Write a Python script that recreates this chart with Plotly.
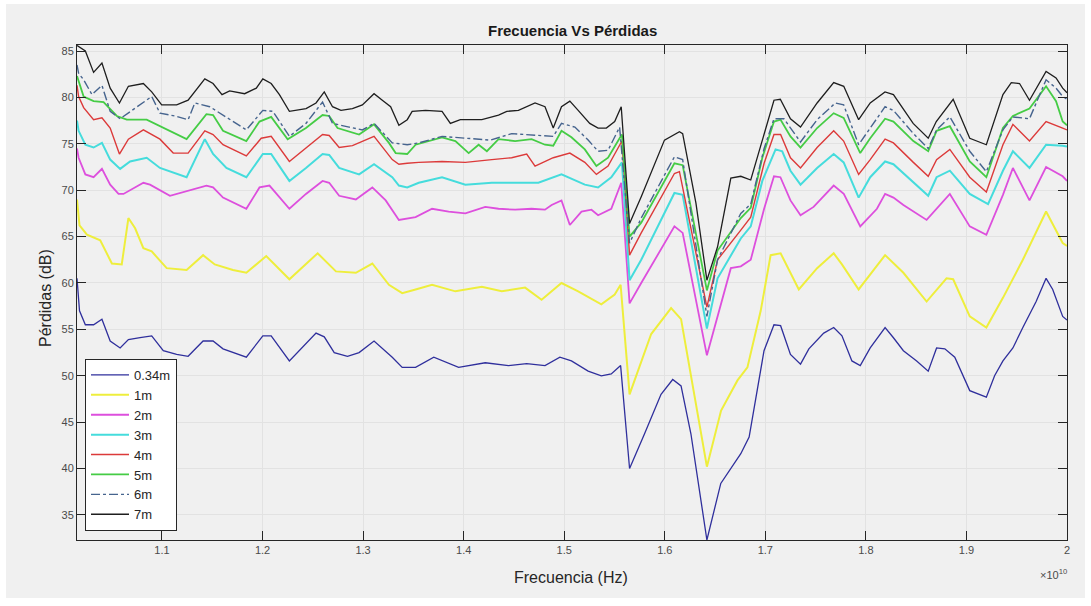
import plotly.graph_objects as go

# Frequency in units of 1e10 Hz, losses in dB: (frequency, loss) vertices
S_034M = [(1.0155, 60.5), (1.018, 57.0), (1.0238, 55.5), (1.032, 55.5), (1.0403, 56.1), (1.0485, 53.75),
          (1.0584, 53.0), (1.0666, 53.9), (1.0782, 54.1), (1.0898, 54.3), (1.1013, 52.7), (1.1146, 52.3),
          (1.126, 52.1), (1.1409, 53.75), (1.1508, 53.75), (1.1607, 52.9), (1.1839, 52.0), (1.2003, 54.3),
          (1.2086, 54.3), (1.2267, 51.6), (1.2532, 54.6), (1.2614, 54.2), (1.2713, 52.5), (1.2845, 52.1),
          (1.296, 52.5), (1.3109, 53.75), (1.329, 52.0), (1.3389, 50.9), (1.3522, 50.9), (1.3703, 52.0),
          (1.395, 50.9), (1.4215, 51.4), (1.4446, 51.1), (1.4627, 51.3), (1.4809, 51.1), (1.4957, 52.0),
          (1.5072, 51.6), (1.5238, 50.5), (1.5369, 50.0), (1.5468, 50.2), (1.5561, 51.1), (1.565, 40.0),
          (1.5799, 43.75), (1.5963, 48.0), (1.6079, 49.6), (1.6162, 48.9), (1.626, 43.75), (1.6419, 32.3),
          (1.6557, 38.4), (1.6657, 40.0), (1.6756, 41.6), (1.6839, 43.4), (1.6987, 52.7), (1.7086, 55.5),
          (1.7152, 55.4), (1.725, 52.3), (1.735, 51.25), (1.7433, 52.9), (1.7581, 54.6), (1.768, 55.2),
          (1.7762, 54.3), (1.7861, 51.6), (1.7944, 51.1), (1.8043, 53.0), (1.8191, 55.2), (1.8274, 54.1),
          (1.8373, 52.7), (1.8505, 51.6), (1.862, 50.5), (1.8703, 53.0), (1.8785, 52.9), (1.8884, 52.0),
          (1.9033, 48.4), (1.9198, 47.7), (1.928, 50.0), (1.9363, 51.6), (1.9462, 53.0), (1.9561, 55.2),
          (1.9693, 58.0), (1.9792, 60.5), (1.9858, 59.3), (1.9957, 56.4), (2.0, 56.0)]

S_1M = [(1.0155, 69.0), (1.018, 66.2), (1.0254, 65.2), (1.0386, 64.6), (1.0502, 62.1), (1.06, 62.0),
        (1.0666, 67.0), (1.0733, 65.9), (1.0815, 63.75), (1.0898, 63.4), (1.1047, 61.6), (1.1245, 61.4),
        (1.1409, 63.0), (1.1525, 62.0), (1.1706, 61.4), (1.1839, 61.1), (1.2037, 62.9), (1.2267, 60.4),
        (1.2548, 63.2), (1.273, 61.25), (1.2928, 61.1), (1.3092, 62.1), (1.3257, 59.8), (1.3389, 58.9),
        (1.3522, 59.3), (1.3686, 59.8), (1.3918, 59.1), (1.4181, 59.6), (1.4379, 59.1), (1.4611, 59.5),
        (1.4775, 58.2), (1.4973, 60.0), (1.5139, 59.1), (1.5369, 57.7), (1.5502, 58.75), (1.5561, 59.8),
        (1.565, 48.0), (1.5865, 54.5), (1.6063, 57.3), (1.6162, 56.1), (1.6419, 40.2), (1.656, 46.25),
        (1.6723, 49.5), (1.6822, 50.9), (1.6954, 57.0), (1.7053, 63.0), (1.7152, 63.2), (1.7333, 59.3),
        (1.7515, 61.6), (1.768, 63.2), (1.7762, 62.0), (1.7928, 59.3), (1.8191, 63.0), (1.8373, 61.1),
        (1.8604, 58.0), (1.8802, 60.5), (1.8868, 60.4), (1.9033, 56.4), (1.9198, 55.2), (1.9363, 58.4),
        (1.9561, 62.5), (1.9792, 67.7), (1.9957, 64.3), (2.0, 64.0)]

S_2M = [(1.0155, 74.5), (1.0171, 73.5), (1.0238, 71.7), (1.032, 71.4), (1.0403, 72.3), (1.0485, 70.6),
        (1.0568, 69.6), (1.0617, 69.6), (1.0815, 70.8), (1.0881, 70.6), (1.1079, 69.4), (1.1442, 70.5),
        (1.1508, 70.3), (1.1607, 69.2), (1.1839, 68.0), (1.197, 70.3), (1.2069, 70.5), (1.2267, 68.0),
        (1.2432, 69.6), (1.2597, 71.0), (1.2663, 70.8), (1.2762, 69.4), (1.2928, 69.0), (1.3092, 70.3),
        (1.3225, 68.9), (1.3356, 66.8), (1.3522, 67.1), (1.3686, 68.0), (1.3851, 67.7), (1.4017, 67.5),
        (1.4215, 68.2), (1.4347, 68.0), (1.4512, 67.9), (1.4676, 68.0), (1.4809, 67.9), (1.4875, 68.4),
        (1.4973, 68.9), (1.5056, 66.25), (1.5172, 67.7), (1.5271, 67.9), (1.5337, 67.3), (1.5468, 68.0),
        (1.5567, 70.8), (1.565, 57.8), (1.5766, 60.0), (1.6096, 66.1), (1.6178, 65.4), (1.6419, 52.2),
        (1.6657, 61.6), (1.6756, 61.8), (1.6855, 62.5), (1.6988, 68.0), (1.7086, 71.5), (1.715, 71.4),
        (1.725, 68.9), (1.735, 67.3), (1.748, 68.2), (1.768, 70.5), (1.778, 69.6), (1.7944, 66.1),
        (1.811, 68.0), (1.8191, 69.6), (1.8274, 69.2), (1.8373, 68.4), (1.8604, 66.8), (1.8736, 68.4),
        (1.8835, 69.6), (1.9033, 66.1), (1.9198, 65.2), (1.9363, 69.5), (1.9462, 72.4), (1.9627, 68.9),
        (1.9792, 72.5), (1.9957, 71.5), (2.0, 71.0)]

S_3M = [(1.0155, 77.5), (1.0171, 76.4), (1.0238, 74.9), (1.032, 74.6), (1.0403, 75.1), (1.0485, 73.3),
        (1.0584, 72.3), (1.0683, 73.1), (1.0848, 73.5), (1.098, 72.4), (1.1245, 71.4), (1.1426, 75.5),
        (1.1508, 73.9), (1.1641, 72.4), (1.1839, 71.4), (1.2003, 73.9), (1.2086, 73.9), (1.2267, 71.0),
        (1.2432, 72.4), (1.2597, 73.9), (1.2663, 73.8), (1.2762, 72.4), (1.296, 71.7), (1.3109, 72.8),
        (1.329, 71.4), (1.3356, 70.5), (1.3439, 70.3), (1.3554, 70.8), (1.3785, 71.4), (1.4017, 70.6),
        (1.428, 70.8), (1.4478, 70.8), (1.4743, 70.8), (1.4973, 71.7), (1.5205, 70.6), (1.5337, 70.3),
        (1.5468, 71.4), (1.5574, 73.0), (1.565, 60.3), (1.5766, 62.5), (1.6096, 69.7), (1.6178, 69.5),
        (1.6419, 55.1), (1.6525, 60.5), (1.6756, 64.8), (1.6855, 66.1), (1.697, 71.0), (1.7102, 74.4),
        (1.7168, 74.2), (1.725, 72.1), (1.735, 70.6), (1.7515, 72.4), (1.768, 73.9), (1.7779, 73.0),
        (1.7928, 69.2), (1.8043, 71.4), (1.8191, 73.1), (1.8274, 72.8), (1.8472, 70.8), (1.862, 69.4),
        (1.8703, 71.4), (1.8835, 72.1), (1.9033, 69.6), (1.9215, 68.5), (1.9363, 72.1), (1.9462, 74.2),
        (1.9627, 72.4), (1.9792, 74.9), (1.9957, 74.8), (2.0, 74.7)]

S_4M = [(1.0155, 81.3), (1.0171, 80.1), (1.0221, 78.9), (1.032, 77.6), (1.0403, 77.8), (1.0485, 76.7),
        (1.0577, 73.9), (1.0666, 75.5), (1.0815, 76.5), (1.098, 75.5), (1.1112, 74.0), (1.126, 74.0),
        (1.1426, 76.4), (1.1508, 76.0), (1.1607, 74.9), (1.1839, 73.7), (1.1987, 75.6), (1.2086, 75.8),
        (1.2267, 73.1), (1.2432, 74.6), (1.2597, 76.0), (1.2663, 75.9), (1.2762, 74.6), (1.2894, 74.8),
        (1.3109, 75.8), (1.329, 73.3), (1.3356, 72.8), (1.3439, 72.9), (1.3554, 73.0), (1.3785, 73.1),
        (1.4017, 73.0), (1.428, 73.3), (1.4478, 73.5), (1.4627, 73.9), (1.471, 72.6), (1.4891, 73.5),
        (1.5056, 74.0), (1.5205, 73.0), (1.532, 71.7), (1.5436, 72.6), (1.5551, 74.9), (1.5574, 75.3),
        (1.565, 63.0), (1.5766, 65.4), (1.6096, 71.8), (1.6146, 72.0), (1.6419, 57.4), (1.6525, 62.5),
        (1.6756, 65.7), (1.6855, 67.1), (1.6988, 72.9), (1.7086, 76.0), (1.7152, 76.0), (1.725, 73.5),
        (1.735, 72.4), (1.7515, 74.6), (1.768, 76.4), (1.7779, 75.3), (1.7928, 71.7), (1.8043, 73.3),
        (1.8191, 75.5), (1.8274, 75.1), (1.8472, 73.0), (1.862, 71.5), (1.8703, 73.3), (1.8835, 74.4),
        (1.9033, 71.4), (1.9198, 69.8), (1.9363, 74.9), (1.9462, 77.1), (1.9627, 75.3), (1.9792, 77.4),
        (1.9957, 76.7), (2.0, 76.5)]

S_5M = [(1.0155, 82.3), (1.0171, 81.7), (1.0221, 80.1), (1.032, 79.6), (1.0419, 79.5), (1.0551, 78.0),
        (1.065, 77.6), (1.0848, 77.6), (1.1245, 75.5), (1.1442, 78.2), (1.1508, 78.1), (1.1607, 76.4),
        (1.1839, 75.3), (1.197, 77.4), (1.2086, 77.9), (1.225, 75.5), (1.2432, 76.7), (1.2597, 78.1),
        (1.2663, 78.0), (1.2746, 76.7), (1.296, 76.0), (1.3109, 77.1), (1.3257, 75.1), (1.3324, 74.0),
        (1.3439, 73.9), (1.3522, 74.9), (1.3785, 75.7), (1.3918, 75.3), (1.405, 74.0), (1.4149, 74.9),
        (1.4231, 74.2), (1.4347, 75.5), (1.4512, 75.3), (1.4676, 75.5), (1.4809, 74.9), (1.4891, 74.8),
        (1.4973, 76.4), (1.5072, 75.7), (1.5205, 74.4), (1.532, 72.6), (1.5436, 73.5), (1.5551, 75.6),
        (1.5574, 76.0), (1.565, 65.0), (1.5766, 66.5), (1.6096, 72.9), (1.6178, 72.7), (1.6419, 59.2),
        (1.6525, 63.5), (1.6756, 67.0), (1.6855, 68.1), (1.697, 73.5), (1.7086, 77.4), (1.7152, 77.6),
        (1.725, 75.8), (1.735, 74.6), (1.7515, 76.7), (1.768, 78.3), (1.7779, 77.8), (1.7944, 74.0),
        (1.8043, 75.6), (1.8191, 77.7), (1.8274, 77.4), (1.8472, 75.3), (1.862, 74.2), (1.8703, 76.4),
        (1.8835, 76.9), (1.9033, 73.1), (1.9198, 71.4), (1.9363, 76.7), (1.9462, 78.0), (1.9627, 78.8),
        (1.9792, 81.2), (1.9891, 79.6), (1.9957, 77.4), (2.0, 77.0)]

S_6M = [(1.0155, 83.5), (1.0171, 82.6), (1.0221, 81.9), (1.0304, 80.3), (1.0403, 81.3), (1.0485, 78.5),
        (1.0584, 77.7), (1.0898, 80.1), (1.098, 78.3), (1.1129, 78.0), (1.126, 77.6), (1.1327, 79.4),
        (1.1475, 79.0), (1.1839, 76.5), (1.2003, 78.6), (1.2102, 78.5), (1.2267, 75.8), (1.2432, 77.2),
        (1.2597, 79.5), (1.2696, 77.2), (1.2861, 76.8), (1.2993, 76.5), (1.3109, 77.2), (1.329, 75.1),
        (1.3439, 74.9), (1.3554, 75.1), (1.3785, 75.8), (1.4017, 75.6), (1.4264, 75.4), (1.4478, 76.1),
        (1.4743, 75.9), (1.4891, 75.8), (1.4973, 77.2), (1.5106, 76.8), (1.5238, 75.4), (1.5337, 74.2),
        (1.5436, 74.3), (1.5551, 76.8), (1.565, 64.3), (1.5766, 67.0), (1.6096, 73.6), (1.6178, 73.3),
        (1.6419, 56.4), (1.6525, 62.5), (1.6756, 67.5), (1.6855, 68.5), (1.6988, 74.5), (1.7086, 77.7),
        (1.7185, 77.7), (1.735, 75.2), (1.7515, 77.6), (1.7696, 79.4), (1.7779, 79.2), (1.7928, 74.9),
        (1.8043, 76.7), (1.8191, 79.0), (1.8274, 78.6), (1.8472, 76.1), (1.862, 74.5), (1.8703, 76.5),
        (1.8835, 77.9), (1.9033, 74.2), (1.9198, 72.0), (1.9363, 76.5), (1.9462, 77.9), (1.9627, 77.7),
        (1.9792, 81.9), (1.9891, 81.0), (1.9957, 80.1), (2.0, 79.8)]

S_7M = [(1.0155, 85.6), (1.0238, 85.0), (1.032, 82.7), (1.0403, 83.7), (1.0485, 81.0), (1.0577, 79.4),
        (1.0666, 81.2), (1.0815, 81.5), (1.0898, 80.6), (1.0997, 79.2), (1.1146, 79.2), (1.126, 79.7),
        (1.1426, 82.0), (1.1508, 81.5), (1.1597, 80.3), (1.1673, 80.7), (1.1822, 80.4), (1.1938, 81.0),
        (1.2003, 82.0), (1.2086, 81.5), (1.2168, 80.3), (1.2267, 78.5), (1.2433, 78.8), (1.2532, 79.4),
        (1.2614, 80.6), (1.2696, 79.0), (1.278, 78.6), (1.2894, 78.8), (1.2993, 79.2), (1.3109, 80.4),
        (1.3191, 79.7), (1.3274, 79.0), (1.3356, 77.0), (1.3439, 77.6), (1.3488, 78.5), (1.3621, 78.6),
        (1.3785, 78.5), (1.3868, 77.2), (1.3967, 77.6), (1.4181, 77.6), (1.4347, 78.1), (1.4429, 78.5),
        (1.4545, 78.6), (1.471, 79.4), (1.4809, 79.0), (1.4891, 76.7), (1.4973, 79.0), (1.5056, 79.6),
        (1.5139, 78.6), (1.5254, 77.2), (1.5337, 76.7), (1.5419, 76.7), (1.5502, 77.4), (1.5567, 79.0),
        (1.565, 66.4), (1.5766, 69.3), (1.5997, 75.4), (1.6146, 76.3), (1.6178, 76.1), (1.631, 68.6),
        (1.6419, 60.3), (1.6525, 63.9), (1.6657, 71.3), (1.6756, 71.5), (1.6855, 71.1), (1.6988, 76.1),
        (1.7086, 79.7), (1.7149, 79.8), (1.725, 77.7), (1.735, 76.8), (1.7515, 79.4), (1.768, 81.6),
        (1.778, 81.2), (1.7928, 77.6), (1.8043, 79.4), (1.819, 80.6), (1.8274, 80.3), (1.847, 77.2),
        (1.862, 75.6), (1.870, 77.4), (1.8868, 79.8), (1.9033, 75.6), (1.9198, 74.9), (1.9363, 80.3),
        (1.9446, 81.6), (1.9528, 81.5), (1.9627, 79.7), (1.9792, 82.8), (1.9891, 82.1), (1.9957, 81.0),
        (2.0, 80.5)]

SERIES_NAMES = ["0.34m", "1m", "2m", "3m", "4m", "5m", "6m", "7m"]
SERIES_DATA = [S_034M, S_1M, S_2M, S_3M, S_4M, S_5M, S_6M, S_7M]
SERIES_COLORS = ["#2f2f9c", "#eeee3c", "#dd4fdd", "#45dcdc", "#dc3a3a", "#45cc45", "#46648e", "#1e1e1e"]
SERIES_WIDTHS = [1.3, 2.0, 1.8, 2.0, 1.4, 1.8, 1.4, 1.3]
SERIES_DASH = ["solid", "solid", "solid", "solid", "solid", "solid", "dashdot", "solid"]

X_TICKS = [1.1, 1.2, 1.3, 1.4, 1.5, 1.6, 1.7, 1.8, 1.9, 2.0]
X_TICK_TEXT = ["1.1", "1.2", "1.3", "1.4", "1.5", "1.6", "1.7", "1.8", "1.9", "2"]
Y_TICKS = [35, 40, 45, 50, 55, 60, 65, 70, 75, 80, 85]

FONT = "Liberation Sans, Arial, Helvetica, sans-serif"

fig = go.Figure()
for name, data, color, width, dash in zip(SERIES_NAMES, SERIES_DATA, SERIES_COLORS, SERIES_WIDTHS, SERIES_DASH):
    fig.add_trace(go.Scatter(
        x=[p[0] for p in data], y=[p[1] for p in data], name=name, mode="lines",
        line=dict(color=color, width=width, dash=dash),
    ))

L, R, T, B = 77, 1067, 45, 540
W, H = 1091, 606
pw, ph = R - L, B - T

def px_x(px):
    return (px - L) / pw

def px_y(py):
    return (B - py) / ph

axis_common = dict(
    showline=True, linecolor="#262626", linewidth=1, mirror="allticks",
    ticks="inside", ticklen=9, tickwidth=1, tickcolor="#262626",
    showgrid=True, gridcolor="#e2e2e2", gridwidth=1, zeroline=False,
    tickfont=dict(family=FONT, size=11, color="#4a4a4a"),
)

fig.update_layout(
    width=W, height=H,
    margin=dict(l=L, r=W - R, t=T, b=H - B),
    paper_bgcolor="white", plot_bgcolor="white",
    font=dict(family=FONT, color="#262626"),
    xaxis=dict(range=[1.0155, 2.0], tickvals=X_TICKS, ticktext=X_TICK_TEXT, **axis_common),
    yaxis=dict(range=[32.3, 85.65], tickvals=Y_TICKS, **axis_common),
    showlegend=True,
    legend=dict(
        x=px_x(85), y=px_y(531), xanchor="left", yanchor="bottom",
        bgcolor="white", bordercolor="#262626", borderwidth=1,
        font=dict(family=FONT, size=13, color="#262626"),
        tracegroupgap=0, itemwidth=38,
    ),
    shapes=[dict(
        type="rect", xref="paper", yref="paper",
        x0=px_x(6), x1=px_x(1085), y0=px_y(598), y1=px_y(4),
        fillcolor="#f0f0f0", line=dict(width=0), layer="below",
    )],
    annotations=[
        dict(text="<b>Frecuencia Vs Pérdidas</b>", xref="paper", yref="paper",
             x=px_x(572), y=px_y(30), xanchor="center", yanchor="middle", showarrow=False,
             font=dict(family=FONT, size=15, color="#1a1a1a")),
        dict(text="Frecuencia (Hz)", xref="paper", yref="paper",
             x=px_x(571), y=px_y(577), xanchor="center", yanchor="middle", showarrow=False,
             font=dict(family=FONT, size=16, color="#262626")),
        dict(text="Pérdidas (dB)", xref="paper", yref="paper", textangle=-90,
             x=px_x(45), y=px_y(298), xanchor="center", yanchor="middle", showarrow=False,
             font=dict(family=FONT, size=16, color="#262626")),
        dict(text="×10<sup>10</sup>", xref="paper", yref="paper",
             x=px_x(1069), y=px_y(574), xanchor="right", yanchor="middle", showarrow=False,
             font=dict(family=FONT, size=11, color="#4a4a4a")),
    ],
)

fig.write_html("out.html")
